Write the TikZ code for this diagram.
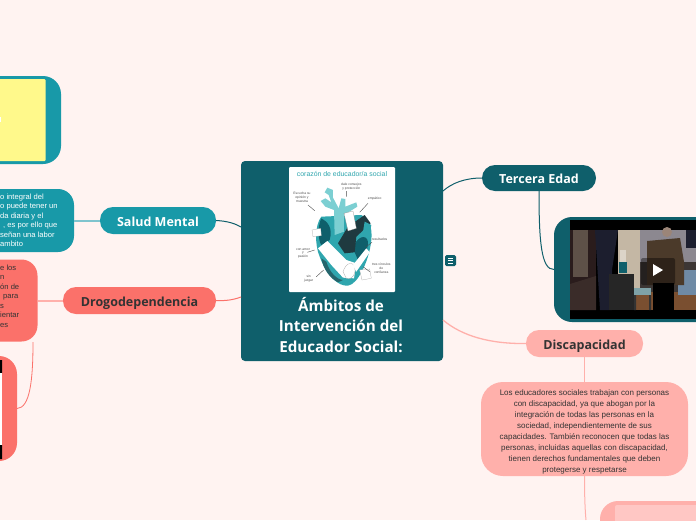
\documentclass[tikz,border=0pt]{standalone}
\usepackage{fontspec}
\setmainfont{Liberation Sans}
\newfontfamily\topicfont{Open Sans}
\definecolor{bgpink}{HTML}{FFF3F1}
\definecolor{darkteal}{HTML}{0F5F6B}
\definecolor{midteal}{HTML}{1899A8}
\definecolor{paleteal}{HTML}{7FC4CE}
\definecolor{salmon}{HTML}{FB716A}
\definecolor{palesalmon}{HTML}{FFB0AB}
\definecolor{palerose}{HTML}{FFC7C4}
\definecolor{inktext}{HTML}{333333}
\definecolor{notefill}{HTML}{FFF98B}
\definecolor{heartteal}{HTML}{2FA6AE}
\definecolor{heartpale}{HTML}{7CCFD2}
\definecolor{heartdark}{HTML}{1F3A40}
\definecolor{doordark}{HTML}{2A1C1C}
\definecolor{doorpanel}{HTML}{5E5148}
\definecolor{curtain}{HTML}{1C1E2E}
\definecolor{roomlight}{HTML}{C4B7A4}
\definecolor{roomwall}{HTML}{8C8890}
\definecolor{roomshade}{HTML}{3C3634}
\definecolor{roomfloor}{HTML}{7A4F30}
\definecolor{jacket}{HTML}{4B3A2A}
\definecolor{clothblue}{HTML}{6F8AA5}
\tikzset{
  box/.style = {rectangle, inner sep=0pt, outer sep=0pt, anchor=north west},
  topic/.style = {box, rounded corners=13pt, font=\topicfont\bfseries\fontsize{12.5}{14}\selectfont, align=center, text height=12pt, text depth=1pt},
  bodytext/.style = {inner sep=0pt, font=\fontsize{8}{11}\selectfont, align=center, text=inktext},
  croptext/.style = {inner sep=0pt, font=\fontsize{7.6}{9.5}\selectfont, anchor=west, align=left, text=inktext},
  link/.style = {line width=1pt},
  hearttext/.style = {inner sep=0pt, text=black!70, font=\fontsize{3.3}{3.8}\selectfont, align=center},
  heartline/.style = {black!70, line width=.4pt}
}
\begin{document}
\begin{tikzpicture}[x=1pt, y=-1pt]
  \useasboundingbox (0,0) rectangle (696,520);
  \clip (0,0) rectangle (696,520);
  \fill[bgpink] (0,0) rectangle (696,520);

  % central topic
  \node[box, fill=darkteal, rounded corners=4pt, minimum width=202pt, minimum height=200pt] (central) at (241,161) {};
  \node[box, fill=white, rounded corners=1pt, minimum width=106pt, minimum height=125pt] (heartpic) at (289,167) {};
  \node[inner sep=0pt, text=heartteal, font=\fontsize{6.9}{7}\selectfont] (hearttitle) at (342,174) {corazón de educador/a social};
  \begin{scope}[shift={(288,165)}, x=.3333pt, y=-.3333pt]
    \fill[heartteal] (100,155) .. controls (80,180) and (80,240) .. (95,275) .. controls (115,330) and (150,365) .. (180,362) .. controls (210,358) and (240,290) .. (248,240) .. controls (255,200) and (250,165) .. (220,150) -- cycle;
    \fill[darkteal] (100,160) .. controls (88,185) and (90,225) .. (100,240) -- (125,225) .. controls (135,190) and (120,170) .. (100,160) -- cycle;
    \fill[darkteal] (195,250) .. controls (205,215) and (235,205) .. (240,230) .. controls (240,260) and (225,285) .. (212,290) -- cycle;
    \fill[heartpale] (140,210) -- (138,135) -- (112,125) -- (98,108) -- (112,100) -- (130,112) -- (122,90) -- (110,82) -- (118,68) -- (135,75) -- (135,98) -- (152,130) -- (160,100) -- (172,102) -- (172,125) -- (205,112) -- (208,125) -- (168,150) -- (168,200) -- cycle;
    \fill[heartdark] (150,235) -- (180,185) -- (230,150) -- (248,175) -- (205,215) -- (200,262) -- (170,265) -- cycle;
    \fill[heartteal] (230,170) -- (250,180) -- (245,205) -- (225,200) -- cycle;
    \fill[white, draw=black!50, line width=.2pt] (168,145) -- (195,138) -- (205,190) -- (180,198) -- cycle;
    \fill[white] (90,250) -- (118,228) -- (175,285) -- (205,295) -- (198,340) -- (165,338) -- (130,300) -- cycle;
    \fill[white, draw=black!40, line width=.2pt] (165,320) .. controls (175,290) and (195,290) .. (200,305) .. controls (205,325) and (195,345) .. (175,340) -- cycle;
    \fill[heartdark!60!heartteal] (115,290) .. controls (125,325) and (150,345) .. (165,345) -- (150,352) .. controls (125,340) and (105,310) .. (100,280) -- cycle;
    \fill[white] (195,300) -- (235,250) -- (245,262) -- (205,320) -- cycle;
    \fill[white, draw=black!40, line width=.2pt] (215,315) -- (245,312) -- (250,340) -- (222,345) -- cycle;
    \fill[white, draw=black!40, line width=.2pt] (72,195) -- (98,190) -- (100,212) -- (75,215) -- cycle;
    \node[hearttext] (heartnoteA) at (42,97) {Escucha su\\opinión y\\muestra};
    \node[hearttext] (heartnoteB) at (190,65) {dale consejos\\y protección};
    \node[hearttext] (heartnoteC) at (260,102) {empático};
    \node[hearttext] (heartnoteD) at (275,222) {resultados};
    \node[hearttext] (heartnoteE) at (45,265) {con amor\\y\\pasión};
    \node[hearttext] (heartnoteF) at (62,342) {sin\\juzgar};
    \node[hearttext] (heartnoteG) at (280,310) {tres vínculos\\de\\confianza};
    \draw[heartline] (60,120) -- (80,137) (175,78) -- (175,95) (240,115) -- (215,142) (252,232) -- (235,245) (58,262) -- (80,255) (85,335) -- (107,315) (225,305) -- (245,320);
  \end{scope}
  \node[inner sep=0pt, text=white, font=\topicfont\bfseries\fontsize{15.2}{20.5}\selectfont, align=center] (centraltitle) at (341,325) {Ámbitos de\\Intervención del\\ Educador Social:};

  % notes icon
  \node[box, fill=darkteal, rounded corners=1.5pt, minimum width=11pt, minimum height=11pt] (noteicon) at (445,255) {};
  \draw[white, line width=.8pt] (448,258) -- (453,258) (448,260.5) -- (453,260.5) (448,263) -- (453,263);

  % left side
  \node[box, fill=midteal, rounded corners=18pt, minimum width=141pt, minimum height=88pt] (yellowcard) at (-80,76) {};
  \node[box, fill=notefill, rounded corners=1pt, minimum width=125.5pt, minimum height=82pt] (yellownote) at (-80,79) {};
  \fill[white] (0,117) rectangle (1,122);
  \node[topic, fill=midteal, text=white, minimum width=116pt, minimum height=27pt] (salud) at (100,207) {Salud Mental};
  \node[box, fill=midteal, rounded corners=16pt, minimum width=154pt, minimum height=63pt] (saludtext) at (-80,189) {};
  \node[croptext, text=white] (saludlines) at (0,220.5) {o integral del\\o puede tener un\\da diaria y el\\\hspace*{3pt}, es por ello que\\señan una labor\\ambito};
  \node[topic, fill=salmon, text=inktext, minimum width=153pt, minimum height=27pt] (drogo) at (63,287) {Drogodependencia};
  \node[box, fill=salmon, rounded corners=16pt, minimum width=117.5pt, minimum height=82pt] (drogotext) at (-80,259.5) {};
  \node[croptext] (drogolines) at (0,296) {e los\\n\\ón de\\\hspace*{3pt}para\\s\\ientar\\es};
  \node[box, fill=salmon, rounded corners=18pt, minimum width=97pt, minimum height=105pt] (drogovideo) at (-80,356) {};
  \fill[black] (0,360) rectangle (2,373) (0,445) rectangle (2,459);
  \fill[white] (0,373) rectangle (2,445);

  % right side
  \node[topic, fill=darkteal, text=white, minimum width=114pt, minimum height=26pt] (tercera) at (482,165) {Tercera Edad};
  \node[box, fill=darkteal, rounded corners=18pt, minimum width=200pt, minimum height=105pt] (video) at (554,217) {};
  \node[box, fill=black, minimum width=130pt, minimum height=99pt] (videoframe) at (570,220) {};
  \fill[doordark] (570,230) rectangle (596,310);
  \fill[doorpanel] (573,230) rectangle (588,277);
  \fill[doordark!70!doorpanel] (570,284) -- (596,276) -- (596,310) -- (570,310) -- cycle;
  \fill[roomshade] (618,230) rectangle (696,310);
  \fill[roomlight] (618,230) rectangle (640,295);
  \fill[roomwall] (640,230) rectangle (696,262);
  \fill[roomfloor] (636,292) rectangle (696,310);
  \fill[curtain] (595,230) -- (618,230) -- (612,270) -- (612,310) -- (600,310) -- cycle;
  \fill[roomlight!60!white] (620,250) rectangle (626,262);
  \fill[darkteal] (619,262) rectangle (627,273);
  \fill[black!85] (609,274) rectangle (634,310);
  \fill[paleteal!50!gray] (634,288) rectangle (651,295);
  \fill[black!80] (634,295) rectangle (636,310) (649,295) rectangle (651,310);
  \fill[clothblue] (678,270) rectangle (696,295);
  \fill[curtain] (686,230) rectangle (696,248);
  \fill[roomwall!70!brown] (667,232) circle (5pt);
  \fill[jacket] (647,241) -- (680,238) -- (684,262) -- (684,285) -- (647,285) -- cycle;
  \fill[black] (653,283) rectangle (674,310);
  \fill[black, opacity=.4, rounded corners=2pt] (641,258) rectangle (675,285);
  \fill[white] (653,264) -- (663,270) -- (653,276) -- cycle;
  \node[topic, fill=palesalmon, text=inktext, minimum width=117pt, minimum height=27pt] (discapacidad) at (526,330) {Discapacidad};
  \node[box, fill=palesalmon, rounded corners=22pt, minimum width=207pt, minimum height=94pt] (disctextbox) at (481,382) {};
  \node[bodytext] (disctext) at (584.5,431.5) {Los educadores sociales trabajan con personas\\con discapacidad, ya que abogan por la\\integración de todas las personas en la\\sociedad, independientemente de sus\\capacidades. También reconocen que todas las\\personas, incluidas aquellas con discapacidad,\\tienen derechos fundamentales que deben\\protegerse y respetarse};
  \node[box, fill=palesalmon, rounded corners=18pt, minimum width=200pt, minimum height=100pt] (disccard) at (600,501) {};
  \node[box, fill=palerose, rounded corners=2pt, minimum width=185pt, minimum height=90pt] (discinner) at (615,505) {};

  % connectors
  \draw[link, darkteal] (salud.east) .. controls (228,221) and (236,224) .. (central.west |- 0,227);
  \draw[link, salmon] (drogo.east) .. controls (225,301) and (233,300) .. (central.west |- 0,297);
  \draw[link, darkteal] (tercera.west) .. controls (465,178) and (452,183) .. (central.east |- 0,191);
  \draw[link, palesalmon, line width=1.3pt] (discapacidad.west) .. controls (490,344) and (462,336) .. (central.east |- 0,320);
  \draw[link, paleteal, line width=2pt] (salud.west) -- (saludtext.east);
  \draw[link, palesalmon, line width=2pt] (drogo.west) -- (drogotext.east);
  \draw[link, salmon, line width=.8pt] (33,342) .. controls (33,380) and (30,408) .. (drogovideo.east);
  \draw[link, darkteal] (tercera.south) .. controls (539,240) and (541,270) .. (video.west);
  \draw[link, palesalmon] (discapacidad.south) -- (disctextbox.north);
  \draw[link, palesalmon] (disctextbox.south) .. controls (584.5,495) and (585,510) .. (586,520);
\end{tikzpicture}
\end{document}
